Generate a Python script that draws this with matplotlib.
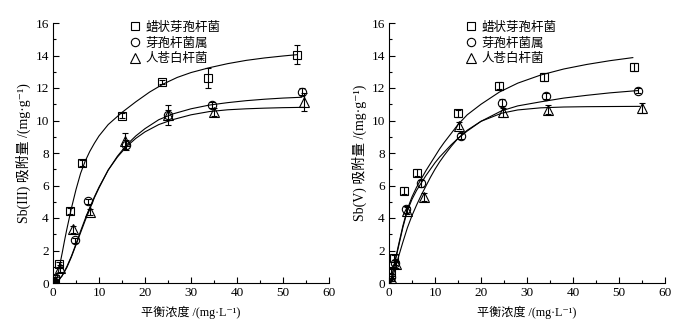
import matplotlib
matplotlib.use("Agg")
import matplotlib.pyplot as plt
from matplotlib.lines import Line2D

plt.rcParams['font.family'] = ['Liberation Serif', 'Noto Sans CJK SC', 'DejaVu Serif']

names = ['蜡状芽孢杆菌', '芽孢杆菌属', '人苍白杆菌']
markers = ['s', 'o', '^']

# ---------- Left panel: Sb(III) ----------
sq3_x = [0.5, 1.4, 3.8, 6.4, 15.0, 23.8, 33.8, 53.0]
sq3_y = [0.25, 1.15, 4.43, 7.4, 10.3, 12.37, 12.63, 14.05]
sq3_e = [0.1, 0.15, 0.2, 0.2, 0.15, 0.15, 0.6, 0.57]
ci3_x = [0.5, 4.8, 7.5, 15.9, 25.0, 34.5, 54.1]
ci3_y = [0.3, 2.62, 5.03, 8.47, 10.36, 10.95, 11.77]
ci3_e = [0.1, 0.15, 0.15, 0.3, 0.3, 0.2, 0.2]
tr3_x = [0.5, 1.6, 4.4, 8.0, 15.65, 24.9, 34.9, 54.6]
tr3_y = [0.15, 0.9, 3.3, 4.37, 8.76, 10.34, 10.5, 11.15]
tr3_e = [0.1, 0.2, 0.2, 0.2, 0.5, 0.6, 0.25, 0.55]

fit_sq3_x = [0.6, 1.0, 1.5, 2.0, 2.5, 3.0, 3.5, 4.0, 5.0, 6.0, 7.0, 8.0, 9.0, 10, 12, 15, 18, 21, 24, 27, 30, 34, 38, 42, 46, 50, 53]
fit_sq3_y = [0.0, 0.45, 1.15, 1.85, 2.6, 3.3, 3.95, 4.6, 5.75, 6.75, 7.5, 8.1, 8.6, 9.05, 9.75, 10.5, 11.15, 11.75, 12.25, 12.65, 12.95, 13.25, 13.5, 13.7, 13.85, 13.97, 14.05]
fit_ci3_x = [0.5, 1, 2, 3, 4, 5, 6, 7, 8, 9, 10, 12, 14, 16, 18, 20, 23, 26, 30, 34, 38, 42, 46, 50, 54]
fit_ci3_y = [0.0, 0.1, 0.45, 0.95, 1.6, 2.35, 3.1, 3.85, 4.55, 5.25, 5.85, 6.95, 7.8, 8.5, 9.05, 9.5, 10.05, 10.4, 10.72, 10.95, 11.1, 11.22, 11.31, 11.38, 11.43]
fit_tr3_x = [0.5, 1, 2, 3, 4, 5, 6, 7, 8, 9, 10, 12, 14, 16, 18, 20, 23, 26, 30, 34, 38, 42, 46, 50, 54.5]
fit_tr3_y = [0.0, 0.1, 0.45, 1.0, 1.65, 2.4, 3.2, 3.95, 4.65, 5.3, 5.9, 6.95, 7.75, 8.4, 8.9, 9.3, 9.75, 10.05, 10.35, 10.55, 10.66, 10.72, 10.76, 10.79, 10.81]

# ---------- Right panel: Sb(V) ----------
sq5_x = [0.5, 1.16, 3.26, 6.16, 15.07, 24.0, 33.8, 53.3]
sq5_y = [0.7, 1.52, 5.68, 6.79, 10.44, 12.14, 12.7, 13.3]
sq5_e = [0.15, 0.2, 0.2, 0.2, 0.2, 0.2, 0.25, 0.25]
ci5_x = [0.5, 1.2, 3.8, 6.96, 15.6, 24.5, 34.2, 54.2]
ci5_y = [0.35, 1.25, 4.53, 6.13, 9.05, 11.1, 11.5, 11.84]
ci5_e = [0.1, 0.15, 0.2, 0.2, 0.2, 0.2, 0.2, 0.15]
tr5_x = [0.6, 1.45, 4.0, 7.5, 15.2, 24.8, 34.6, 54.9]
tr5_y = [0.2, 1.15, 4.45, 5.27, 9.68, 10.5, 10.67, 10.77]
tr5_e = [0.1, 0.2, 0.2, 0.25, 0.2, 0.3, 0.3, 0.3]

fit_sq5_x = [0.3, 0.7, 1, 1.5, 2, 3, 4, 5, 6, 7, 8, 9, 10, 11, 12, 13.5, 15, 17, 20, 24, 28, 33, 38, 43, 48, 53]
fit_sq5_y = [0.0, 0.5, 0.9, 1.6, 2.25, 3.5, 4.55, 5.3, 5.9, 6.4, 6.9, 7.35, 7.8, 8.25, 8.65, 9.2, 9.75, 10.35, 11.0, 11.75, 12.3, 12.8, 13.17, 13.45, 13.68, 13.87]
fit_ci5_x = [0.3, 0.7, 1, 1.5, 2, 3, 4, 5, 6, 7, 8, 9, 10, 11, 12, 13.5, 15, 17, 20, 24.5, 28, 33, 38, 43, 48, 54]
fit_ci5_y = [0.0, 0.5, 0.9, 1.55, 2.15, 3.4, 4.45, 5.15, 5.7, 6.15, 6.6, 7.0, 7.4, 7.75, 8.05, 8.5, 8.9, 9.35, 9.95, 10.6, 10.9, 11.15, 11.38, 11.55, 11.7, 11.84]
fit_tr5_x = [0.4, 1, 1.5, 2, 3, 4, 5, 6, 7, 8, 9, 10, 11, 12, 13.5, 15, 17, 20, 24.5, 28, 33, 38, 43, 48, 54.5]
fit_tr5_y = [0.0, 0.55, 1.05, 1.55, 2.5, 3.4, 4.15, 4.8, 5.4, 5.95, 6.5, 7.0, 7.45, 7.85, 8.4, 8.9, 9.4, 9.95, 10.45, 10.65, 10.78, 10.83, 10.85, 10.86, 10.87]

x_ticks = [0, 10, 20, 30, 40, 50, 60]
y_ticks = [0, 2, 4, 6, 8, 10, 12, 14, 16]
x_label = '平衡浓度 /(mg·L⁻¹)'
y_labels = ['Sb(III) 吸附量 /(mg·g⁻¹)', 'Sb(V) 吸附量 /(mg·g⁻¹)']

panels = [
    ([(sq3_x, sq3_y, sq3_e), (ci3_x, ci3_y, ci3_e), (tr3_x, tr3_y, tr3_e)],
     [(fit_sq3_x, fit_sq3_y), (fit_ci3_x, fit_ci3_y), (fit_tr3_x, fit_tr3_y)]),
    ([(sq5_x, sq5_y, sq5_e), (ci5_x, ci5_y, ci5_e), (tr5_x, tr5_y, tr5_e)],
     [(fit_sq5_x, fit_sq5_y), (fit_ci5_x, fit_ci5_y), (fit_tr5_x, fit_tr5_y)]),
]

fig = plt.figure(figsize=(6.97, 3.31), dpi=100)
W, H = 697, 331
ax_rects = [[53 / W, 48 / H, 276 / W, 260 / H], [389 / W, 48 / H, 276 / W, 260 / H]]

for i, (pts, fits) in enumerate(panels):
    ax = fig.add_axes(ax_rects[i])
    for (fx, fy) in fits:
        ax.plot(fx, fy, color='black', lw=0.8, zorder=2)
    for (px, py, pe), m in zip(pts, markers):
        ax.errorbar(px, py, yerr=pe, fmt=m, mfc='white', mec='black', ecolor='black',
                    ms=6 if m != '^' else 7, mew=0.8, elinewidth=0.8, capsize=2.5,
                    capthick=0.8, zorder=3, fillstyle='none')
    ax.set_xlim(0, 60)
    ax.set_ylim(0, 16)
    ax.set_xticks(x_ticks)
    ax.set_yticks(y_ticks)
    ax.set_xticks([5, 15, 25, 35, 45, 55], minor=True)
    ax.set_yticks([1, 3, 5, 7, 9, 11, 13, 15], minor=True)
    ax.tick_params(which='both', direction='in', labelsize=9.5, width=0.8, pad=3)
    ax.tick_params(which='major', length=4)
    ax.tick_params(which='minor', length=2)
    for s in ['top', 'right']:
        ax.spines[s].set_visible(False)
    for s in ['left', 'bottom']:
        ax.spines[s].set_linewidth(0.8)
    ax.set_xlabel(x_label, fontsize=8.7, labelpad=5)
    ax.set_ylabel(y_labels[i], fontsize=10, labelpad=3)

    handles = [Line2D([], [], ls='none', marker=m, mfc='none', mec='black',
                      ms=6 if m != '^' else 7, mew=0.8) for m in markers]
    ax.legend(handles, names, loc='upper left', bbox_to_anchor=(0.275, 1.005),
              frameon=False, fontsize=9, handlelength=0.9, handletextpad=0.4,
              labelspacing=0.3, borderpad=0, borderaxespad=0)

fig.savefig('out.png', dpi=100)
